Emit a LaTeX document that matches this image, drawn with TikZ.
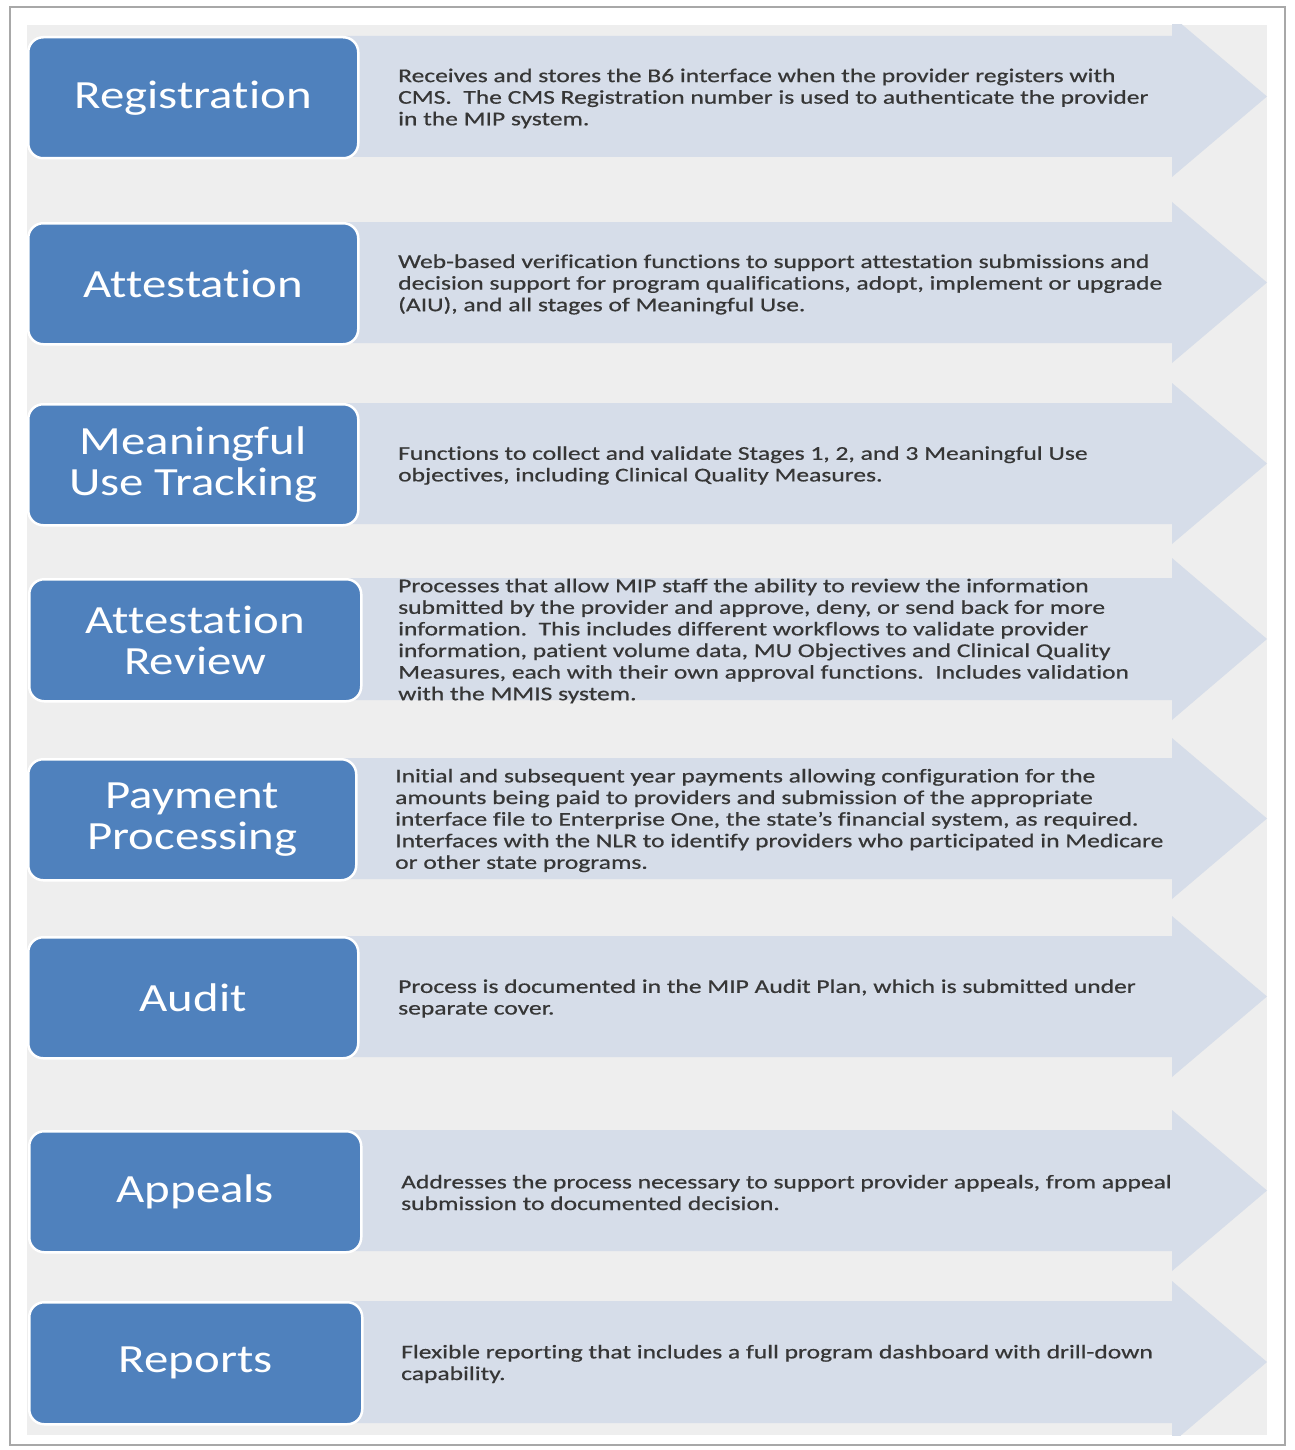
\documentclass[tikz,border=0pt]{standalone}
\usepackage{fontspec}
\setmainfont{Carlito}
\newfontfamily\lblfont[FakeStretch=1.22,Ligatures=NoCommon]{Carlito}
\newfontfamily\dscfont[FakeStretch=1.31,Ligatures=NoCommon,FakeBold=0.6]{Carlito}
\definecolor{boxblue}{HTML}{4F81BD}
\definecolor{arrowc}{HTML}{D6DDE9}
\definecolor{bggray}{HTML}{EEEEEE}
\definecolor{txtgray}{HTML}{363636}
\definecolor{framegray}{HTML}{A8A8A8}
\tikzset{
  lblbox/.style={draw=white, line width=2.5pt, fill=boxblue, rounded corners=15pt,
    text=white, align=center, inner sep=0pt,
    font=\lblfont\fontsize{40}{41}\selectfont},
  dsctext/.style={anchor=west, align=left, text=txtgray, inner sep=0pt,
    font=\dscfont\fontsize{19.5}{21.6}\selectfont},
  arrowshape/.style={fill=arrowc}
}
% #1 name, #2 left, #3 top, #4 right, #5 bottom, #6 text x, #7 label, #8 description
\newcommand\procrow[8]{%
  \pgfmathsetmacro\rmid{(#3+#5)/2}%
  \pgfmathsetmacro\rw{#4-#2}%
  \pgfmathsetmacro\rh{#5-#3}%
  \begin{scope}
    \clip (27,25) rectangle (1267,1435);
    \fill[arrowshape] (#4-12,#3) -- (1172,#3) -- (1172,#3-20) -- (1267,\rmid)
      -- (1172,#5+20) -- (1172,#5) -- (#4-12,#5) -- cycle;
  \end{scope}
  \node[lblbox, minimum width=\rw pt, minimum height=\rh pt, anchor=north west]
    (#1) at (#2,#3) {#7};
  \node[dsctext] (#1-d) at (#6,\rmid+2) {#8};
}
\begin{document}
\begin{tikzpicture}[x=1pt,y=-1pt]
\useasboundingbox (0,0) rectangle (1294,1450);
\fill[white] (0,0) rectangle (1294,1450);
\draw[framegray, line width=1.5pt] (10,7) rectangle (1285,1445);
\fill[bggray] (27,25) rectangle (1267,1435);

\procrow{reg}{27}{36}{357}{157}{398}{Registration}
{Receives and stores the B6 interface when the provider registers with\\
CMS.\ \ The CMS Registration number is used to authenticate the provider\\
in the MIP system.}

\procrow{att}{27}{222}{357}{343}{398}{Attestation}
{Web-based verification functions to support attestation submissions and\\
decision support for program qualifications, adopt, implement or upgrade\\
(AIU), and all stages of Meaningful Use.}

\procrow{mut}{27}{403}{357}{524}{398}{Meaningful\\Use Tracking}
{Functions to collect and validate Stages 1, 2, and 3 Meaningful Use\\
objectives, including Clinical Quality Measures.}

\procrow{atr}{28}{578}{360}{700}{398}{Attestation\\Review}
{Processes that allow MIP staff the ability to review the information\\
submitted by the provider and approve, deny, or send back for more\\
information.\ \ This includes different workflows to validate provider\\
information, patient volume data, MU Objectives and Clinical Quality\\
Measures, each with their own approval functions.\ \ Includes validation\\
with the MMIS system.}

\procrow{pay}{27}{758}{355}{879}{395}{Payment\\Processing}
{Initial and subsequent year payments allowing configuration for the\\
amounts being paid to providers and submission of the appropriate\\
interface file to Enterprise One, the state’s financial system, as required.\\
Interfaces with the NLR to identify providers who participated in Medicare\\
or other state programs.}

\procrow{aud}{27}{936}{357}{1057}{398}{Audit}
{Process is documented in the MIP Audit Plan, which is submitted under\\
separate cover.}

\procrow{app}{28}{1130}{360}{1251}{401}{Appeals}
{Addresses the process necessary to support provider appeals, from appeal\\
submission to documented decision.}

\procrow{rep}{28}{1301}{361}{1423}{401}{Reports}
{Flexible reporting that includes a full program dashboard with drill-down\\
capability.}
\end{tikzpicture}
\end{document}
